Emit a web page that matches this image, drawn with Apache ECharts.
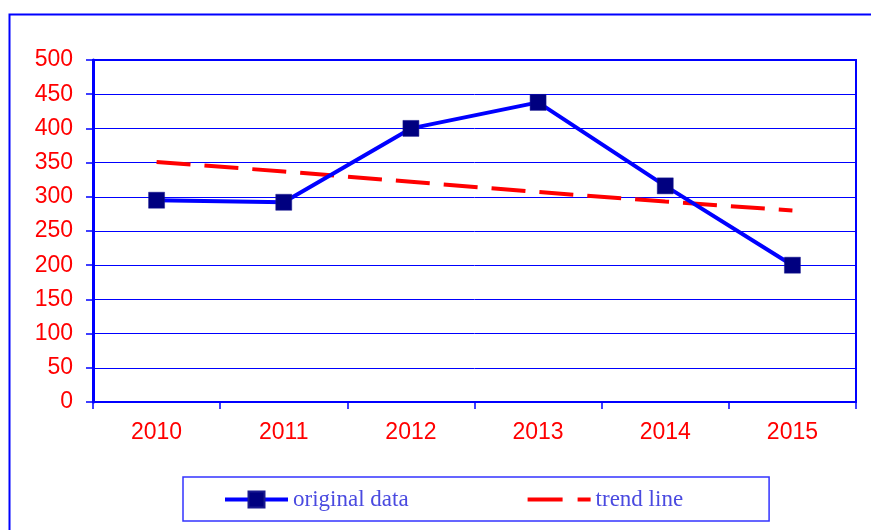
<!DOCTYPE html>
<html>
<head>
<meta charset="utf-8">
<script src="https://cdn.jsdelivr.net/npm/echarts@6/dist/echarts.min.js"></script>
<style>html,body{margin:0;padding:0;background:#fff}#c{width:871px;height:530px}</style>
</head>
<body>
<div id="c"></div>
<script>
const categories = ['2010', '2011', '2012', '2013', '2014', '2015'];
const originalData = [295, 292, 400, 438, 316, 200];
const trendLine = [351, 337, 322, 307, 293, 280];
const yTicks = { min: 0, max: 500, interval: 50 };

const chart = echarts.init(document.getElementById('c'), null, { renderer: 'canvas' });
chart.setOption({
  animation: false,
  backgroundColor: '#fff',
  graphic: [{
    type: 'rect', left: 7, top: 12, z: -1,
    shape: { width: 900, height: 560 },
    style: { fill: 'none', stroke: '#0000ff', lineWidth: 2 }
  }],
  grid: { left: 93, right: 15, top: 60, bottom: 128, show: true, borderColor: '#0000ff', borderWidth: 2, backgroundColor: 'transparent' },
  legend: {
    left: 183, top: 477,
    padding: [11, 86, 10, 40],
    itemGap: 117,
    itemWidth: 63, itemHeight: 20,
    borderColor: '#3333ff', borderWidth: 1.5,
    textStyle: { fontFamily: 'Liberation Serif', fontSize: 23, color: '#4a4ae0' },
    data: [
      { name: 'original data', lineStyle: { width: 4, color: '#0000ff' }, itemStyle: { color: '#000080' } },
      { name: 'trend line', lineStyle: { width: 4, color: '#ff0000', type: [35, 15] }, itemStyle: { color: 'rgba(0,0,0,0)', borderWidth: 0, opacity: 0 } }
    ]
  },
  xAxis: {
    type: 'category', data: categories, boundaryGap: true,
    axisLine: { lineStyle: { color: '#0000ff', width: 2 } },
    axisTick: { show: true, length: 7, lineStyle: { color: '#0000ff', width: 1.5 } },
    axisLabel: { color: '#ff0000', fontFamily: 'Liberation Sans', fontSize: 23, margin: 19 },
    splitLine: { show: false }
  },
  yAxis: {
    type: 'value', min: yTicks.min, max: yTicks.max, interval: yTicks.interval,
    axisLine: { show: true, lineStyle: { color: '#0000ff', width: 3 } },
    axisTick: { show: true, length: 7, lineStyle: { color: '#0000ff', width: 1.5 } },
    axisLabel: { color: '#ff0000', fontFamily: 'Liberation Sans', fontSize: 23, margin: 20 },
    splitLine: { show: true, lineStyle: { color: '#0000ff', width: 1 } }
  },
  series: [{
    name: 'original data', type: 'line', data: originalData,
    symbol: 'rect', symbolSize: 16, showSymbol: true,
    lineStyle: { color: '#0000ff', width: 4 },
    itemStyle: { color: '#000080', borderColor: '#1a1a90', borderWidth: 0.5 },
    z: 3
  }, {
    name: 'trend line', type: 'line', data: trendLine,
    symbol: 'none',
    lineStyle: { color: '#ff0000', width: 4, type: [34, 14] },
    itemStyle: { color: '#ff0000' },
    z: 2
  }]
});
</script>
</body>
</html>
